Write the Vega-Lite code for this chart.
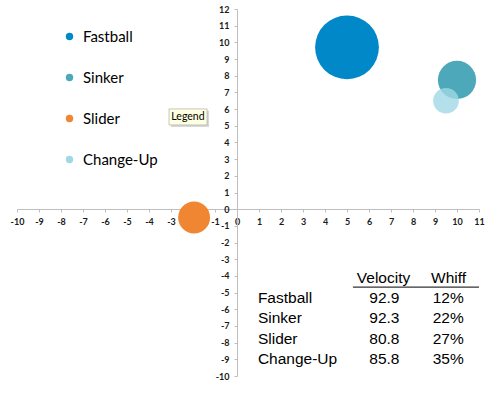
{
  "$schema": "https://vega.github.io/schema/vega-lite/v6.json",
  "width": 462,
  "height": 367,
  "autosize": {"type": "none"},
  "padding": {"left": 17, "top": 9, "right": 18, "bottom": 17},
  "background": "white",
  "config": {
    "view": {"stroke": null},
    "axis": {"title": null, "grid": false, "domainColor": "#BFBFBF", "tickColor": "#BFBFBF", "tickSize": 3,
      "labelFont": "Lato", "labelFontSize": 9, "labelFontWeight": "bold", "labelColor": "#1A1A1A", "labelPadding": 5, "labelFlush": false, "labelOverlap": false,
      "labelExpr": "datum.value + ''", "zindex": 1}
  },
  "data": {"values": [
    {"pitch": "Fastball", "movement_x": 5, "movement_y": 9.7, "usage": 40, "order": 1, "velocity": 92.9, "whiff": 0.12},
    {"pitch": "Sinker", "movement_x": 10, "movement_y": 7.75, "usage": 14.3, "order": 2, "velocity": 92.3, "whiff": 0.22},
    {"pitch": "Slider", "movement_x": -1.95, "movement_y": -0.5, "usage": 10, "order": 3, "velocity": 80.8, "whiff": 0.27},
    {"pitch": "Change-Up", "movement_x": 9.5, "movement_y": 6.5, "usage": 6.5, "order": 4, "velocity": 85.8, "whiff": 0.35}
  ]},
  "layer": [
    {
      "layer": [
        {
          "mark": {"type": "circle", "strokeWidth": 0},
          "encoding": {
            "x": {"field": "movement_x", "type": "quantitative",
              "scale": {"domain": [-10, 11], "nice": false, "zero": false},
              "axis": {"values": [-10,-9,-8,-7,-6,-5,-4,-3,-2,-1,0,1,2,3,4,5,6,7,8,9,10,11], "offset": -167}},
            "y": {"field": "movement_y", "type": "quantitative",
              "scale": {"domain": [-10, 12], "nice": false, "zero": false},
              "axis": {"values": [-10,-9,-8,-7,-6,-5,-4,-3,-2,-1,0,1,2,3,4,5,6,7,8,9,10,11,12], "offset": -220}},
            "size": {"field": "usage", "type": "quantitative", "scale": {"domain": [0, 40], "range": [0, 4072]}, "legend": null},
            "color": {"field": "pitch", "type": "nominal",
              "scale": {"domain": ["Fastball", "Sinker", "Slider", "Change-Up"], "range": ["#0088C9", "#4DA9B9", "#F08532", "#A0D8E5"]},
              "legend": {"orient": "none", "legendX": 45, "legendY": 20, "padding": 0, "title": null,
                "symbolType": "circle", "symbolSize": 55, "symbolOpacity": 1, "symbolStrokeWidth": 0,
                "labelFont": "Lato", "labelFontSize": 15, "labelColor": "#000000", "labelOffset": 6, "rowPadding": 25}},
            "opacity": {"condition": {"test": "datum.pitch === 'Change-Up'", "value": 0.8}, "value": 1}
          }
        },
        {
          "data": {"values": [{}]},
          "mark": {"type": "rect", "fill": "#000000", "opacity": 0.15},
          "encoding": {
            "x": {"datum": -3.0, "axis": {"values": [-10,-9,-8,-7,-6,-5,-4,-3,-2,-1,0,1,2,3,4,5,6,7,8,9,10,11], "offset": -167}},
            "x2": {"datum": -1.27},
            "y": {"datum": 5.9, "axis": {"values": [-10,-9,-8,-7,-6,-5,-4,-3,-2,-1,0,1,2,3,4,5,6,7,8,9,10,11,12], "offset": -220}},
            "y2": {"datum": 4.92}}
        },
        {
          "data": {"values": [{}]},
          "mark": {"type": "rect", "fill": "#FFFFE1", "stroke": "#A0A0A0", "strokeWidth": 0.6},
          "encoding": {
            "x": {"datum": -3.09, "axis": {"values": [-10,-9,-8,-7,-6,-5,-4,-3,-2,-1,0,1,2,3,4,5,6,7,8,9,10,11], "offset": -167}},
            "x2": {"datum": -1.36},
            "y": {"datum": 6.01, "axis": {"values": [-10,-9,-8,-7,-6,-5,-4,-3,-2,-1,0,1,2,3,4,5,6,7,8,9,10,11,12], "offset": -220}},
            "y2": {"datum": 5.05}}
        },
        {
          "data": {"values": [{}]},
          "mark": {"type": "text", "text": "Legend", "font": "Lato", "fontSize": 10.5, "color": "#000000", "align": "center", "baseline": "middle"},
          "encoding": {
            "x": {"datum": -2.23, "axis": {"values": [-10,-9,-8,-7,-6,-5,-4,-3,-2,-1,0,1,2,3,4,5,6,7,8,9,10,11], "offset": -167}},
            "y": {"datum": 5.53, "axis": {"values": [-10,-9,-8,-7,-6,-5,-4,-3,-2,-1,0,1,2,3,4,5,6,7,8,9,10,11,12], "offset": -220}}}
        }
      ]
    },
    {
      "layer": [
        {
          "mark": {"type": "text", "font": "Liberation Sans", "fontSize": 15.5, "color": "#000000", "align": "left", "baseline": "middle"},
          "encoding": {
            "x": {"datum": 0.95, "axis": {"values": [-10,-9,-8,-7,-6,-5,-4,-3,-2,-1,0,1,2,3,4,5,6,7,8,9,10,11], "offset": -167}},
            "y": {"field": "order", "type": "quantitative", "scale": {"domain": [-13.28, 4.84], "reverse": true, "nice": false, "zero": false}, "axis": null},
            "text": {"field": "pitch"}
          }
        },
        {
          "mark": {"type": "text", "font": "Liberation Sans", "fontSize": 15.5, "color": "#000000", "align": "center", "baseline": "middle"},
          "encoding": {
            "x": {"datum": 6.7, "axis": {"values": [-10,-9,-8,-7,-6,-5,-4,-3,-2,-1,0,1,2,3,4,5,6,7,8,9,10,11], "offset": -167}},
            "y": {"field": "order", "type": "quantitative", "axis": null},
            "text": {"field": "velocity", "format": ".1f"}
          }
        },
        {
          "mark": {"type": "text", "font": "Liberation Sans", "fontSize": 15.5, "color": "#000000", "align": "center", "baseline": "middle"},
          "encoding": {
            "x": {"datum": 9.6, "axis": {"values": [-10,-9,-8,-7,-6,-5,-4,-3,-2,-1,0,1,2,3,4,5,6,7,8,9,10,11], "offset": -167}},
            "y": {"field": "order", "type": "quantitative", "axis": null},
            "text": {"field": "whiff", "format": ".0%"}
          }
        },
        {
          "data": {"values": [{}]},
          "mark": {"type": "text", "text": "Velocity", "font": "Liberation Sans", "fontSize": 15.5, "color": "#000000", "align": "center", "baseline": "middle"},
          "encoding": {
            "x": {"datum": 6.66, "axis": {"values": [-10,-9,-8,-7,-6,-5,-4,-3,-2,-1,0,1,2,3,4,5,6,7,8,9,10,11], "offset": -167}},
            "y": {"datum": 0, "axis": null}}
        },
        {
          "data": {"values": [{}]},
          "mark": {"type": "text", "text": "Whiff", "font": "Liberation Sans", "fontSize": 15.5, "color": "#000000", "align": "center", "baseline": "middle"},
          "encoding": {
            "x": {"datum": 9.62, "axis": {"values": [-10,-9,-8,-7,-6,-5,-4,-3,-2,-1,0,1,2,3,4,5,6,7,8,9,10,11], "offset": -167}},
            "y": {"datum": 0, "axis": null}}
        },
        {
          "data": {"values": [{}]},
          "mark": {"type": "rule", "color": "#333333", "strokeWidth": 1.2},
          "encoding": {
            "x": {"datum": 5.27, "axis": {"values": [-10,-9,-8,-7,-6,-5,-4,-3,-2,-1,0,1,2,3,4,5,6,7,8,9,10,11], "offset": -167}},
            "x2": {"datum": 11},
            "y": {"datum": 0.45, "axis": null}}
        }
      ]
    }
  ],
  "resolve": {"scale": {"y": "independent"}}
}
